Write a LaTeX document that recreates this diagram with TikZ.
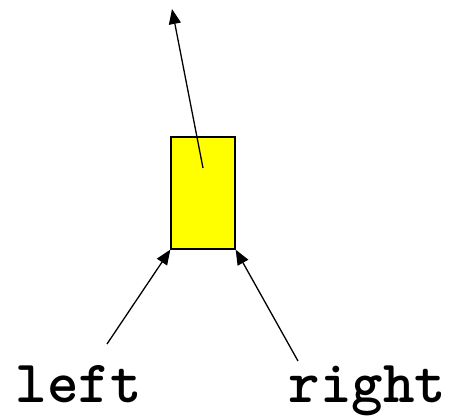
\documentclass[tikz,border=0pt]{standalone}
\usepackage{fontspec}
\usetikzlibrary{arrows.meta}
\definecolor{boxyellow}{RGB}{255,255,0}
\begin{document}
\begin{tikzpicture}[x=1pt,y=1pt,
  arr/.style={line width=1.3pt,-{Triangle[length=15pt,width=12pt]}},
  lab/.style={font=\ttfamily\bfseries\fontsize{60}{66}\selectfont,inner sep=0pt,anchor=base}]
\useasboundingbox (0,0) rectangle (449,416);
\node[draw,line width=1.3pt,fill=boxyellow,minimum width=64pt,minimum height=112pt,inner sep=0pt] (box) at (203,223) {};
\coordinate (c) at (203,248);
\coordinate (top) at (172,407);
\coordinate (ls) at (107,72);
\coordinate (rs) at (298,55);
\node[lab] (left) at (78.5,14) {left};
\node[lab] (right) at (367.5,14) {right};
\draw[arr] (c) -- (top);
\draw[arr] (ls) -- (box.south west);
\draw[arr] (rs) -- (box.south east);
\end{tikzpicture}
\end{document}
